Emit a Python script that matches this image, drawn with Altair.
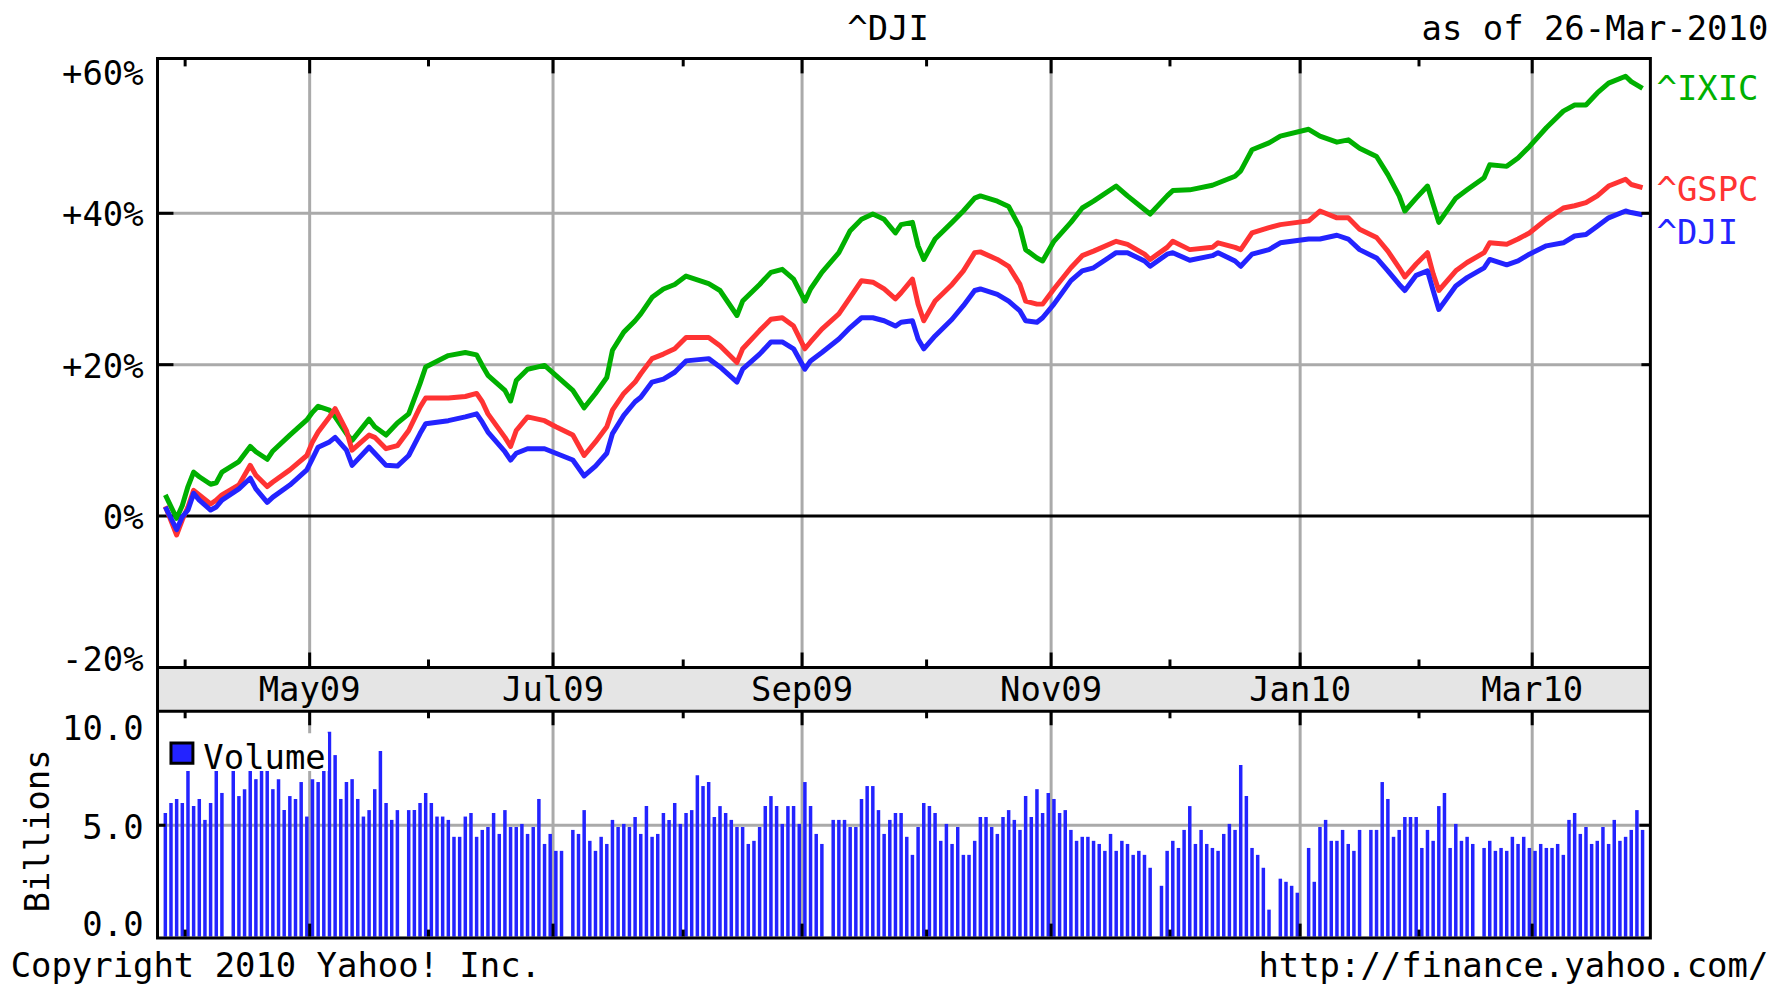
import altair as alt
import numpy as np
import pandas as pd

FONT = "DejaVu Sans Mono"
FS = 34
GRID = "#aaaaaa"
BAND = "#e5e5e5"

START = "2009-03-26"
END = "2010-03-26"
HOLIDAYS = ["2009-04-10", "2009-05-25", "2009-07-03", "2009-09-07", "2009-11-26",
            "2009-12-25", "2010-01-01", "2010-01-18", "2010-02-15"]

# ---- percent-change lines ----
line_dates = [
    "2009-03-26", "2009-03-30", "2009-03-31", "2009-04-01", "2009-04-02", "2009-04-03", "2009-04-07", "2009-04-08",
    "2009-04-09", "2009-04-14", "2009-04-16", "2009-04-17", "2009-04-21", "2009-04-22", "2009-04-27", "2009-04-30",
    "2009-05-01", "2009-05-04", "2009-05-06", "2009-05-07", "2009-05-11", "2009-05-12", "2009-05-15", "2009-05-18",
    "2009-05-20", "2009-05-22", "2009-05-26", "2009-05-28", "2009-05-29",
    "2009-06-04", "2009-06-09", "2009-06-11", "2009-06-12", "2009-06-15", "2009-06-18", "2009-06-19", "2009-06-22",
    "2009-06-24", "2009-06-29",
    "2009-07-01", "2009-07-06", "2009-07-08", "2009-07-10", "2009-07-14", "2009-07-15", "2009-07-17", "2009-07-21",
    "2009-07-22", "2009-07-24", "2009-07-28", "2009-07-30",
    "2009-08-03", "2009-08-07", "2009-08-11", "2009-08-14", "2009-08-17", "2009-08-20", "2009-08-24", "2009-08-26",
    "2009-08-28",
    "2009-09-01", "2009-09-02", "2009-09-04", "2009-09-09", "2009-09-11", "2009-09-15", "2009-09-17", "2009-09-21",
    "2009-09-23", "2009-09-24", "2009-09-28", "2009-09-29", "2009-09-30",
    "2009-10-02", "2009-10-07", "2009-10-09", "2009-10-13", "2009-10-14", "2009-10-19", "2009-10-21", "2009-10-23",
    "2009-10-26", "2009-10-28", "2009-10-29",
    "2009-11-02", "2009-11-05", "2009-11-09", "2009-11-11", "2009-11-17", "2009-11-19", "2009-11-24", "2009-11-25",
    "2009-11-30",
    "2009-12-01", "2009-12-04", "2009-12-10", "2009-12-11", "2009-12-16", "2009-12-17", "2009-12-21", "2009-12-24",
    "2009-12-28",
    "2010-01-04", "2010-01-06", "2010-01-11", "2010-01-13", "2010-01-15", "2010-01-20", "2010-01-22", "2010-01-26",
    "2010-01-27", "2010-01-29",
    "2010-02-02", "2010-02-03", "2010-02-04", "2010-02-09", "2010-02-11", "2010-02-16", "2010-02-17", "2010-02-22",
    "2010-02-24", "2010-02-26",
    "2010-03-03", "2010-03-08", "2010-03-10", "2010-03-12", "2010-03-16", "2010-03-18", "2010-03-23", "2010-03-24",
    "2010-03-26",
]

ixic_pct = [
    2.8, -0.3, 1.4, 3.9, 5.8, 5.2, 4.2, 4.4, 5.8, 7.2, 9.2, 8.5, 7.5, 8.6, 10.7, 12.7,
    13.7, 14.5, 14.0, 13.1, 10.9, 10.0, 12.8, 11.8, 10.7, 12.3, 13.5, 17.5, 19.7,
    21.2, 21.6, 21.3, 19.9, 18.6, 16.6, 15.2, 17.9, 19.4, 19.9,
    18.6, 16.6, 14.3, 16.2, 18.3, 21.9, 24.3, 25.8, 26.7, 28.9, 30.0, 30.6,
    31.7, 30.7, 29.8, 26.5, 28.4, 30.6, 32.2, 32.6, 31.3,
    28.4, 30.0, 32.2, 34.8, 37.7, 39.2, 39.9, 39.2, 37.4, 38.5, 38.8, 35.7, 33.9,
    36.6, 38.8, 40.3, 42.0, 42.3, 41.6, 40.9, 38.1, 35.2, 34.1, 33.7,
    36.3, 38.8, 40.7, 41.6, 43.6, 42.3, 40.5, 39.9, 42.3,
    43.0, 43.1, 43.7, 44.0, 44.9, 45.6, 48.4, 49.3, 50.2,
    51.1, 50.2, 49.4, 49.7, 48.6, 47.5, 45.1, 42.3, 40.3, 42.0,
    43.6, 41.2, 38.8, 42.0, 43.1, 44.7, 46.4, 46.2, 47.3, 48.8,
    51.3, 53.5, 54.3, 54.3, 55.9, 57.2, 58.1, 57.4, 56.5,
]

gspc_pct = [
    1.3, -2.5, -0.5, 1.2, 3.4, 2.8, 1.6, 2.1, 2.8, 4.1, 6.7, 5.4, 3.9, 4.5, 6.1, 8.0,
    9.8, 11.1, 13.1, 14.2, 11.3, 8.7, 10.7, 10.4, 8.9, 9.3, 11.3, 14.4, 15.6,
    15.6, 15.8, 16.2, 15.1, 13.5, 10.4, 9.2, 11.3, 13.1, 12.6,
    11.8, 10.7, 8.0, 9.8, 11.8, 14.0, 16.2, 17.7, 18.8, 20.8, 21.4, 22.1,
    23.6, 23.6, 22.5, 20.3, 22.1, 24.5, 26.0, 26.2, 25.1,
    22.1, 23.0, 24.7, 26.7, 28.9, 31.1, 30.9, 30.0, 28.7, 29.5, 31.3, 28.0, 25.8,
    28.4, 30.6, 32.4, 34.8, 34.9, 33.9, 33.0, 30.6, 28.4, 28.0, 28.0,
    30.0, 32.8, 34.4, 35.0, 36.3, 35.9, 34.6, 33.9, 35.5,
    36.3, 35.2, 35.5, 36.1, 35.5, 35.2, 37.4, 38.1, 38.5,
    39.0, 40.3, 39.4, 39.4, 37.9, 36.8, 35.0, 32.8, 31.6, 33.3,
    34.8, 32.0, 29.8, 32.4, 33.5, 34.8, 36.1, 35.9, 36.6, 37.4,
    39.2, 40.7, 41.0, 41.4, 42.3, 43.6, 44.5, 43.8, 43.4,
]

dji_pct = [
    1.2, -1.8, -0.1, 0.8, 3.0, 2.1, 0.8, 1.2, 2.1, 3.6, 5.0, 3.6, 1.8, 2.5, 4.1, 6.1,
    7.6, 9.1, 9.8, 10.4, 8.7, 6.7, 9.1, 8.3, 6.7, 6.6, 8.0, 10.9, 12.2,
    12.6, 13.1, 13.5, 12.4, 11.1, 8.5, 7.4, 8.3, 8.9, 8.9,
    8.3, 7.4, 5.3, 6.6, 8.3, 10.9, 13.3, 15.1, 15.7, 17.7, 18.1, 19.0,
    20.5, 20.8, 19.7, 17.7, 19.4, 21.4, 23.0, 23.0, 22.1,
    19.4, 20.5, 21.6, 23.4, 24.9, 26.2, 26.2, 25.8, 25.1, 25.6, 25.8, 23.4, 22.1,
    23.8, 26.0, 27.8, 29.8, 30.0, 29.3, 28.4, 27.1, 25.8, 25.6, 26.2,
    28.0, 31.1, 32.4, 32.8, 34.8, 34.8, 33.7, 33.0, 34.6,
    34.8, 33.8, 34.4, 34.8, 33.7, 33.0, 34.6, 35.2, 36.1,
    36.6, 36.6, 37.1, 36.6, 35.2, 34.1, 32.4, 30.6, 29.8, 31.8,
    32.4, 29.8, 27.3, 30.4, 31.5, 32.8, 33.9, 33.2, 33.7, 34.6,
    35.7, 36.1, 37.0, 37.2, 38.3, 39.4, 40.3, 40.1, 39.8,
]

# ---- daily volume, billions, one per trading day ----
volume_bn = [
    5.55, 6.0, 6.18, 6.0, 7.6, 5.86, 6.18, 5.24, 6.0, 8.0, 6.45, 7.8, 6.31, 6.62, 8.2, 7.07, 7.7, 8.6, 6.62, 7.07,
    5.68, 6.31, 6.18, 6.94, 5.39,
    7.07, 6.94, 7.9, 9.2, 8.15, 6.18, 6.94, 7.07, 6.18, 5.39, 5.68, 6.62, 8.33, 6.0, 5.24, 5.68, 5.68, 5.68, 6.0, 6.45,
    6.0, 5.39, 5.39, 5.24, 4.48, 4.48, 5.39, 5.55, 4.48, 4.79, 4.92, 5.55, 4.61, 5.68, 4.92, 4.92, 5.06, 4.61, 4.92,
    6.18, 4.16, 4.61,
    3.85, 3.85, 4.79, 4.61, 5.68, 4.30, 3.85, 4.48, 4.16, 5.24, 4.92, 5.06, 4.92, 5.37, 4.61, 5.86, 4.48, 4.61, 5.55,
    5.24, 6.0, 5.06, 5.55,
    5.68, 7.25, 6.76, 6.94, 5.37, 5.86, 5.55, 5.24, 4.92, 4.92, 4.16, 4.30, 4.92, 5.86, 6.31, 5.86, 5.06, 5.86, 5.86,
    5.06, 6.94,
    5.86, 4.61, 4.16, 5.24, 5.24, 5.24, 4.92, 4.92, 6.18, 6.76, 6.76, 5.68, 4.61, 5.24, 5.55, 5.55, 4.48, 3.67, 4.92,
    6.0, 5.86,
    5.55, 4.30, 5.06, 4.16, 4.92, 3.67, 3.67, 4.30, 5.37, 5.37, 4.92, 4.61, 5.37, 5.68, 5.24, 4.79, 6.31, 5.37, 6.62,
    5.55, 6.45, 6.18,
    5.55, 5.68, 4.79, 4.30, 4.48, 4.48, 4.30, 4.16, 3.85, 4.61, 3.85, 4.30, 4.16, 3.67, 3.85, 3.67, 3.09,
    2.28, 3.85, 4.30, 3.98, 4.79, 5.86, 4.16, 4.79, 4.16, 3.98, 3.85, 4.61, 5.06, 4.79, 7.70, 6.31, 3.98, 3.67, 3.09,
    1.21, 2.60, 2.46, 2.28, 1.97,
    3.98, 2.46, 4.92, 5.24, 4.30, 4.30, 4.79, 4.16, 3.85, 4.79, 4.79, 4.79, 6.94, 6.18, 4.48, 4.79, 5.37, 5.37, 5.37,
    3.98, 4.79, 4.30, 5.86, 6.45, 3.98, 5.06, 4.30, 4.48, 4.16, 3.98, 4.30, 3.85, 3.98, 3.85, 4.48, 4.16, 4.48, 3.98,
    3.85, 4.16, 3.98, 3.98, 4.16, 3.67, 5.24, 5.55, 4.61, 4.92, 4.16, 4.30, 4.92, 4.16, 5.24, 4.30, 4.48, 4.79, 5.68,
    4.79,
]

major_months = ["2009-05-01", "2009-07-01", "2009-09-01", "2009-11-01", "2010-01-01", "2010-03-01"]
major_labels = ["May09", "Jul09", "Sep09", "Nov09", "Jan10", "Mar10"]
minor_months = ["2009-04-01", "2009-06-01", "2009-08-01", "2009-10-01", "2009-12-01", "2010-02-01"]

pct_grid = [20, 40]
pct_top_label = (60, "+60%")
pct_mid_labels = ([40, 20, 0], ["+40%", "+20%", "0%"])
pct_bot_label = (-20, "-20%")
vol_grid = [5]
vol_labels = ([10, 5, 0], ["10.0", "5.0", "0.0"])

series = [("^IXIC", "#00b000", ixic_pct, 1.5),
          ("^GSPC", "#ff3333", gspc_pct, 3.0),
          ("^DJI", "#2323ff", dji_pct, 19.5)]
VOL_COLOR = "#2323ff"


def slot(dates):
    d = pd.to_datetime(pd.Series(dates)).values.astype("datetime64[D]")
    return np.busday_count(np.datetime64(START, "D"), d).astype(float)


# ---- geometry (plot-area pixels) ----
W = 1497.7
H = 883
UP_BOT = 611
VOL_TOP = 655
VOL_ZERO = 881
BORDER_BOT = 882.5
N_SLOTS = int(np.busday_count(np.datetime64(START), np.datetime64(END))) + 1

XS = alt.Scale(domain=[0, N_SLOTS], nice=False, zero=False)
PCT = alt.Scale(domain=[-20, 60.46], range=[UP_BOT, 0], nice=False, zero=False)
VOL = alt.Scale(domain=[0, 10.13], range=[VOL_ZERO, 654.7], nice=False, zero=False)

one = pd.DataFrame({"a": [0]})

trading = pd.bdate_range(START, END)
trading = trading[~trading.isin(pd.to_datetime(HOLIDAYS))]
n = min(len(trading), len(volume_bn))
vol_df = pd.DataFrame({"slot": slot(trading[:n]) + 0.5, "vol": volume_bn[:n]})

majors_df = pd.DataFrame({"slot": slot(major_months), "label": major_labels})
minors_df = pd.DataFrame({"slot": slot(minor_months)})


def xenc():
    return alt.X("slot:Q", scale=XS, axis=None)


def vrule(df, y1, y2, color, sw=3):
    return alt.Chart(df).mark_rule(color=color, strokeWidth=sw).encode(
        x=xenc(), y=alt.value(y1), y2=alt.value(y2))


def hrule(values, field, scale, x1, x2, color, sw=3):
    return alt.Chart(pd.DataFrame({field: values})).mark_rule(color=color, strokeWidth=sw).encode(
        y=alt.Y(f"{field}:Q", scale=scale, axis=None), x=alt.value(x1), x2=alt.value(x2))


def txt(text, x, y, align="left", color="black", angle=0):
    kw = dict(align=align, baseline="middle", font=FONT, fontSize=FS, color=color, text=text)
    if angle:
        kw["angle"] = angle
    return alt.Chart(one).mark_text(**kw).encode(x=alt.value(x), y=alt.value(y))


def ylabels(values, labels, field, scale, dy):
    df = pd.DataFrame({field: values, "t": labels})
    return alt.Chart(df).mark_text(align="right", baseline="middle", font=FONT, fontSize=FS,
                                   color="black", dx=-14, dy=dy).encode(
        y=alt.Y(f"{field}:Q", scale=scale, axis=None), x=alt.value(0), text="t:N")


layers = []

# band between panels
layers.append(alt.Chart(one).mark_rect(color=BAND).encode(
    x=alt.value(0), x2=alt.value(W), y=alt.value(UP_BOT), y2=alt.value(VOL_TOP)))

# gridlines
layers.append(vrule(majors_df, 0, UP_BOT, GRID))
layers.append(vrule(majors_df, VOL_TOP, VOL_ZERO, GRID))
layers.append(hrule(pct_grid, "pct", PCT, 0, W, GRID))
layers.append(hrule(vol_grid, "vol", VOL, 0, W, GRID))
layers.append(hrule([0], "pct", PCT, 0, W, "black"))

# volume bars
layers.append(alt.Chart(vol_df).mark_bar(color=VOL_COLOR, width=3.5).encode(
    x=xenc(), y=alt.Y("vol:Q", scale=VOL, axis=None)))

# lines
line_slots = slot(line_dates) + 0.5
for name, color, vals, _ in series:
    df = pd.DataFrame({"slot": line_slots, "pct": vals})
    layers.append(alt.Chart(df).mark_line(color=color, strokeWidth=5, strokeJoin="round").encode(
        x=xenc(), y=alt.Y("pct:Q", scale=PCT, axis=None)))

# legend for volume
layers.append(alt.Chart(one).mark_rect(color="white").encode(
    x=alt.value(7), x2=alt.value(171), y=alt.value(677), y2=alt.value(715)))
layers.append(alt.Chart(one).mark_rect(color=VOL_COLOR, stroke="black", strokeWidth=3).encode(
    x=alt.value(13.5), x2=alt.value(35.5), y=alt.value(686.8), y2=alt.value(707.2)))
layers.append(txt("Volume", 46, 703))

# tick marks
layers += [
    vrule(majors_df, 0, 15, "black"), vrule(minors_df, 0, 8, "black"),
    vrule(majors_df, UP_BOT - 15, UP_BOT, "black"), vrule(minors_df, UP_BOT - 8, UP_BOT, "black"),
    vrule(majors_df, VOL_TOP, VOL_TOP + 14, "black"), vrule(minors_df, VOL_TOP, VOL_TOP + 7, "black"),
    vrule(majors_df, VOL_ZERO - 13, VOL_ZERO, "black"), vrule(minors_df, VOL_ZERO - 7, VOL_ZERO, "black"),
    hrule(pct_grid, "pct", PCT, 0, 16, "black"), hrule(pct_grid, "pct", PCT, W - 9, W, "black"),
    hrule(vol_grid, "vol", VOL, 0, 8, "black"), hrule(vol_grid, "vol", VOL, W - 11, W, "black"),
]

# borders
layers.append(alt.Chart(one).mark_rect(fillOpacity=0, stroke="black", strokeWidth=3).encode(
    x=alt.value(0), x2=alt.value(W), y=alt.value(0), y2=alt.value(BORDER_BOT)))
layers.append(alt.Chart(one).mark_rule(color="black", strokeWidth=3).encode(
    x=alt.value(0), x2=alt.value(W), y=alt.value(UP_BOT)))
layers.append(alt.Chart(one).mark_rule(color="black", strokeWidth=3).encode(
    x=alt.value(0), x2=alt.value(W), y=alt.value(VOL_TOP)))

# y labels
layers.append(ylabels([pct_top_label[0]], [pct_top_label[1]], "pct", PCT, 13.5))
layers.append(ylabels(pct_mid_labels[0], pct_mid_labels[1], "pct", PCT, 3))
layers.append(ylabels([pct_bot_label[0]], [pct_bot_label[1]], "pct", PCT, -6.5))
layers.append(ylabels([vol_labels[0][0]], [vol_labels[1][0]], "vol", VOL, 15.8))
layers.append(ylabels([vol_labels[0][1]], [vol_labels[1][1]], "vol", VOL, 3.6))
layers.append(ylabels([vol_labels[0][2]], [vol_labels[1][2]], "vol", VOL, -10.5))

# month labels in band
layers.append(alt.Chart(majors_df).mark_text(align="center", baseline="middle", font=FONT, fontSize=FS,
                                             color="black").encode(
    x=xenc(), y=alt.value(635), text="label:N"))

# series labels at the right
last_slot = line_slots[-1]
for name, color, vals, dy in series:
    df = pd.DataFrame({"slot": [last_slot], "pct": [vals[-1]], "t": [name]})
    layers.append(alt.Chart(df).mark_text(align="left", baseline="middle", font=FONT, fontSize=FS,
                                          color=color, dx=14, dy=dy).encode(
        x=xenc(), y=alt.Y("pct:Q", scale=PCT, axis=None), text="t:N"))

# titles and footers
layers.append(txt("^DJI", 733, -28.6, align="center"))
layers.append(txt("as of 26-Mar-2010", 1616, -28.6, align="right"))
layers.append(txt("Billions", -118.6, 775, align="center", angle=270))
layers.append(txt("Copyright 2010 Yahoo! Inc.", -147.3, 912))
layers.append(txt("http://finance.yahoo.com/", 1616, 912, align="right"))

chart = alt.layer(*layers).resolve_scale(y="independent").properties(
    width=W, height=H,
    autosize=alt.AutoSizeParams(type="none"),
    padding={"left": 150, "top": 49, "right": 117, "bottom": 47},
    background="white",
).configure_view(strokeWidth=0)

chart.save("out.html", embed_options={"renderer": "svg", "actions": False})
